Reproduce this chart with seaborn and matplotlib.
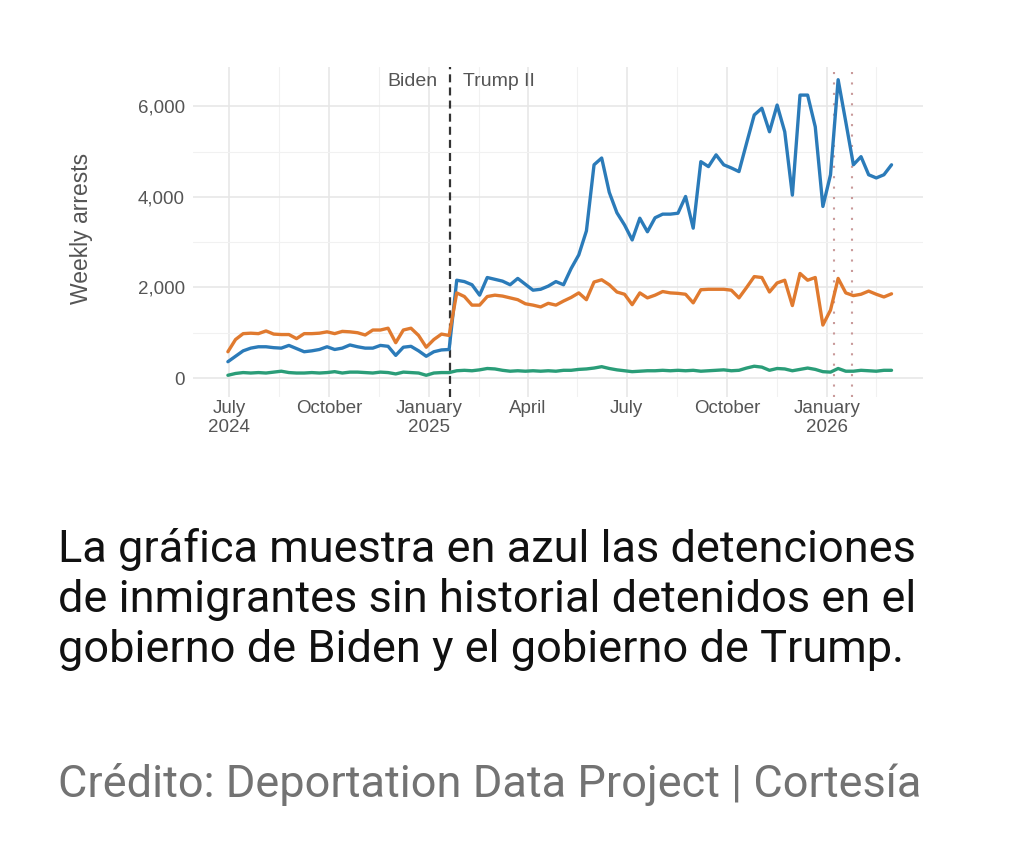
import numpy as np
import pandas as pd
import matplotlib
matplotlib.use("Agg")
import matplotlib.pyplot as plt
import matplotlib.dates as mdates
import matplotlib.ticker as mticker
import seaborn as sns

# weekly arrests (weeks starting 2024-06-30)
weeks = pd.date_range("2024-06-30", periods=88, freq="7D")

no_record = [360, 480, 600, 660, 690, 690, 670, 660, 720, 650,
             580, 600, 630, 690, 630, 660, 730, 690, 660, 660,
             720, 700, 500, 680, 700, 600, 480, 580, 620, 630,
             2160, 2130, 2060, 1830, 2220, 2180, 2140, 2060, 2200, 2070,
             1940, 1960, 2030, 2130, 2060, 2420, 2720, 3250, 4710, 4860,
             4100, 3650, 3380, 3050, 3530, 3230, 3540, 3620, 3620, 3640,
             4010, 3310, 4780, 4670, 4930, 4710, 4640, 4560, 5190, 5810,
             5960, 5440, 6030, 5440, 4040, 6250, 6250, 5550, 3790, 4490,
             6590, 5660, 4710, 4890, 4490, 4420, 4490, 4710]

convicted = [580, 850, 980, 990, 980, 1040, 970, 960, 960, 870,
             980, 980, 990, 1020, 980, 1030, 1020, 1000, 950, 1060,
             1060, 1100, 780, 1060, 1100, 940, 680, 850, 970, 940,
             1880, 1800, 1610, 1610, 1800, 1830, 1810, 1770, 1730, 1640,
             1610, 1570, 1650, 1610, 1700, 1780, 1880, 1730, 2120, 2170,
             2060, 1900, 1850, 1620, 1880, 1770, 1830, 1910, 1880, 1870,
             1850, 1660, 1950, 1960, 1960, 1960, 1940, 1770, 2000, 2240,
             2220, 1900, 2100, 2160, 1600, 2310, 2160, 2220, 1170, 1500,
             2200, 1880, 1820, 1850, 1920, 1850, 1790, 1860]

pending = [60, 100, 120, 110, 120, 110, 130, 150, 120, 110,
           110, 120, 110, 120, 140, 110, 130, 130, 120, 110,
           130, 120, 90, 130, 120, 110, 60, 110, 120, 120,
           160, 170, 160, 180, 210, 200, 170, 150, 160, 150,
           160, 150, 160, 150, 170, 170, 190, 200, 220, 250,
           210, 180, 160, 140, 150, 160, 160, 170, 160, 170,
           160, 170, 150, 160, 170, 180, 160, 170, 220, 260,
           240, 170, 210, 200, 160, 190, 220, 190, 140, 130,
           210, 150, 150, 170, 160, 150, 170, 170]

groups = ["No record", "Convicted", "Pending charges"]
colors = ["#2b7bb9", "#e07a2f", "#2a9d78"]

major_dates = ["2024-07-01", "2024-10-01", "2025-01-01", "2025-04-01",
               "2025-07-01", "2025-10-01", "2026-01-01"]
major_labels = ["July\n2024", "October", "January\n2025", "April",
                "July", "October", "January\n2026"]
minor_dates = ["2024-08-16", "2024-11-16", "2025-02-15", "2025-05-16",
               "2025-08-16", "2025-11-16", "2026-02-15"]
inauguration = "2025-01-20"
event_dates = ["2026-01-07", "2026-01-24"]

caption_lines = ["La gráfica muestra en azul las detenciones",
                 "de inmigrantes sin historial detenidos en el",
                 "gobierno de Biden y el gobierno de Trump."]
credit = "Crédito: Deportation Data Project | Cortesía"

df = pd.concat([
    pd.DataFrame({"week": weeks, "arrests": vals, "group": g})
    for g, vals in zip(groups, [no_record, convicted, pending])
])

sns.set_style("white")
plt.rcParams["font.family"] = ["Liberation Sans", "DejaVu Sans"]

fig = plt.figure(figsize=(10.24, 8.56), dpi=100)
ax = fig.add_axes([0.1885, 0.5362, 0.713, 0.3855])

sns.lineplot(data=df, x="week", y="arrests", hue="group", hue_order=groups,
             palette=colors, linewidth=2.4, legend=False, ax=ax)

ax.set_xlim(pd.Timestamp("2024-05-29"), pd.Timestamp("2026-03-30"))
ax.set_ylim(-420, 6870)

ax.set_xticks(pd.to_datetime(major_dates))
ax.set_xticklabels(major_labels)
ax.set_xticks(pd.to_datetime(minor_dates), minor=True)
ax.set_yticks([0, 2000, 4000, 6000])
ax.set_yticks([1000, 3000, 5000], minor=True)
ax.yaxis.set_major_formatter(mticker.FuncFormatter(lambda v, p: f"{int(v):,}"))

ax.grid(which="major", color="#e6e6e6", linewidth=1.1)
ax.grid(which="minor", color="#f1f1f1", linewidth=0.8)
ax.set_axisbelow(True)
for s in ax.spines.values():
    s.set_visible(False)
ax.tick_params(which="both", length=0)
ax.tick_params(axis="x", pad=2, labelsize=13.5, colors="#555555")
ax.tick_params(axis="y", pad=6, labelsize=13.5, colors="#555555")
ax.set_xlabel("")
ax.set_ylabel("Weekly arrests", fontsize=16.5, color="#555555")
ax.yaxis.set_label_coords(-0.137, 0.51)

inaug = mdates.date2num(pd.Timestamp(inauguration))
ax.axvline(inaug, color="#333333", linestyle=(0, (3.6, 2.3)), linewidth=1.6, zorder=1)
for d in event_dates:
    ax.axvline(mdates.date2num(pd.Timestamp(d)), color="#c99a9a",
               linestyle=(0, (1, 4)), linewidth=1.5, zorder=1)

ax.annotate("Biden", xy=(inaug, 0.955), xycoords=ax.get_xaxis_transform(),
            xytext=(-9, 0), textcoords="offset points", ha="right", va="center",
            fontsize=14, color="#555555")
ax.annotate("Trump II", xy=(inaug, 0.955), xycoords=ax.get_xaxis_transform(),
            xytext=(9, 0), textcoords="offset points", ha="left", va="center",
            fontsize=14, color="#555555")

for i, line in enumerate(caption_lines):
    fig.text(58 / 1024, 1 - (562 + 50 * i) / 856, line, ha="left", va="baseline",
             fontsize=32.5, color="#111111", family="Roboto")
fig.text(58 / 1024, 1 - 797 / 856, credit, ha="left", va="baseline",
         fontsize=32.5, color="#737373", family="Roboto")

fig.savefig("out.png", dpi=100)
